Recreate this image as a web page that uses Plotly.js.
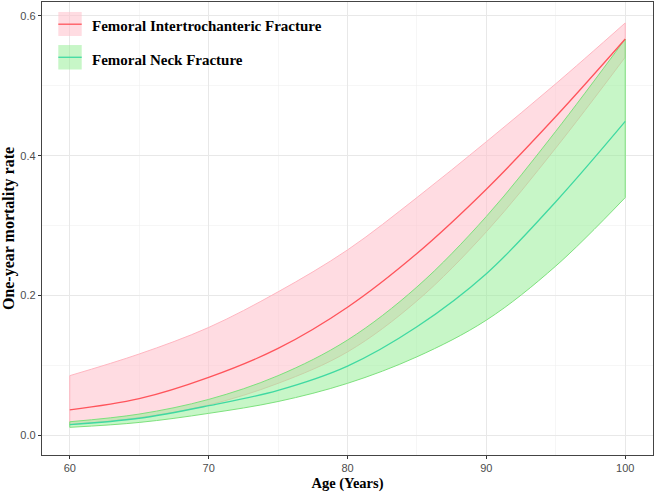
<!DOCTYPE html>
<html>
<head>
<meta charset="utf-8">
<script src="https://cdn.plot.ly/plotly-3.0.1.min.js"></script>
<style>
  html, body { margin: 0; padding: 0; background: #ffffff; }
  #chart { width: 657px; height: 492px; }
</style>
</head>
<body>
<div id="chart"></div>
<script>
// ---- Data ----
const ages = [60, 65, 70, 75, 80, 85, 90, 95, 100];

// Femoral Intertrochanteric Fracture
const itFit   = [0.036, 0.052, 0.0825, 0.124, 0.183, 0.260, 0.352, 0.456, 0.567];
const itUpper = [0.085, 0.116, 0.154, 0.205, 0.265, 0.340, 0.420, 0.503, 0.590];
const itLower = [0.015, 0.025, 0.043, 0.074, 0.119, 0.192, 0.291, 0.411, 0.541];

// Femoral Neck Fracture
const nfFit   = [0.015, 0.024, 0.042, 0.064, 0.0987, 0.155, 0.231, 0.334, 0.449];
const nfUpper = [0.019, 0.030, 0.051, 0.085, 0.136, 0.212, 0.313, 0.435, 0.567];
const nfLower = [0.011, 0.018, 0.031, 0.048, 0.074, 0.112, 0.1645, 0.242, 0.340];

const seriesNames = ['Femoral Intertrochanteric Fracture', 'Femoral Neck Fracture'];

// ---- Styles ----
const pinkFill = 'rgba(255,192,203,0.55)';
const pinkEdge = 'rgba(255,182,193,1)';
const redLine = '#ff545b';
const greenFill = 'rgba(144,238,144,0.5)';
const greenEdge = 'rgba(125,225,125,1)';
const tealLine = '#3fd9a2';

function ribbon(lower, upper, fill, edge) {
  const last = ages.length - 1;
  return [
    { x: ages, y: lower, type: 'scatter', mode: 'lines',
      line: { color: edge, width: 1, shape: 'spline', smoothing: 1 },
      showlegend: false, hoverinfo: 'skip' },
    { x: ages, y: upper, type: 'scatter', mode: 'lines', fill: 'tonexty', fillcolor: fill,
      line: { color: edge, width: 1, shape: 'spline', smoothing: 1 },
      showlegend: false, hoverinfo: 'skip' },
    { x: [ages[0], ages[0]], y: [lower[0], upper[0]], type: 'scatter', mode: 'lines',
      line: { color: edge, width: 1 }, showlegend: false, hoverinfo: 'skip' },
    { x: [ages[last], ages[last]], y: [lower[last], upper[last]], type: 'scatter', mode: 'lines',
      line: { color: edge, width: 1 }, showlegend: false, hoverinfo: 'skip' }
  ];
}

const traces = [
  ...ribbon(itLower, itUpper, pinkFill, pinkEdge),
  ...ribbon(nfLower, nfUpper, greenFill, greenEdge),
  { x: ages, y: itFit, type: 'scatter', mode: 'lines', name: seriesNames[0],
    line: { color: redLine, width: 1.3, shape: 'spline', smoothing: 1 }, showlegend: false },
  { x: ages, y: nfFit, type: 'scatter', mode: 'lines', name: seriesNames[1],
    line: { color: tealLine, width: 1.3, shape: 'spline', smoothing: 1 }, showlegend: false }
];

const tickFont = { family: 'Liberation Sans, Arial, sans-serif', size: 11, color: '#4d4d4d' };
const serif = 'Liberation Serif, Times New Roman, serif';

const layout = {
  width: 657, height: 492,
  margin: { l: 42, r: 4, t: 2, b: 37 },
  paper_bgcolor: '#ffffff', plot_bgcolor: '#ffffff',
  showlegend: false,
  xaxis: {
    range: [58, 102], tick0: 60, dtick: 10, tickmode: 'linear',
    ticks: 'outside', ticklen: 3, tickwidth: 1, tickcolor: '#333333',
    tickfont: tickFont,
    showgrid: true, gridcolor: '#e8e8e8', gridwidth: 1,
    minor: { tick0: 60, dtick: 5, showgrid: true, gridcolor: '#f0f0f0', gridwidth: 0.6, ticks: '' },
    zeroline: false, showline: true, mirror: true, linecolor: '#444444', linewidth: 1.2,
    title: { text: '<b>Age (Years)</b>', font: { family: serif, size: 14.5, color: '#000000' }, standoff: 6 },
    automargin: false
  },
  yaxis: {
    range: [-0.0286, 0.62], tick0: 0, dtick: 0.2, tickmode: 'linear', tickformat: '.1f',
    ticks: 'outside', ticklen: 3, tickwidth: 1, tickcolor: '#333333',
    tickfont: tickFont,
    showgrid: true, gridcolor: '#e8e8e8', gridwidth: 1,
    minor: { tick0: 0, dtick: 0.1, showgrid: true, gridcolor: '#f0f0f0', gridwidth: 0.6, ticks: '' },
    zeroline: false, showline: true, mirror: true, linecolor: '#444444', linewidth: 1.2,
    title: { text: '<b>One-year mortality rate</b>', font: { family: serif, size: 16, color: '#000000' }, standoff: 8 },
    automargin: false
  },
  shapes: [
    { type: 'rect', xref: 'paper', yref: 'paper', x0: 0.0267, x1: 0.065, y0: 0.925, y1: 0.978,
      fillcolor: pinkFill, line: { width: 0 } },
    { type: 'line', xref: 'paper', yref: 'paper', x0: 0.0267, x1: 0.065, y0: 0.951, y1: 0.951,
      line: { color: redLine, width: 1.3 } },
    { type: 'rect', xref: 'paper', yref: 'paper', x0: 0.0267, x1: 0.065, y0: 0.851, y1: 0.905,
      fillcolor: greenFill, line: { width: 0 } },
    { type: 'line', xref: 'paper', yref: 'paper', x0: 0.0267, x1: 0.065, y0: 0.878, y1: 0.878,
      line: { color: tealLine, width: 1.3 } }
  ],
  annotations: [
    { xref: 'paper', yref: 'paper', x: 0.078, y: 0.948, xanchor: 'left', yanchor: 'middle',
      text: '<b>' + seriesNames[0] + '</b>', showarrow: false,
      font: { family: serif, size: 15, color: '#000000' } },
    { xref: 'paper', yref: 'paper', x: 0.078, y: 0.872, xanchor: 'left', yanchor: 'middle',
      text: '<b>' + seriesNames[1] + '</b>', showarrow: false,
      font: { family: serif, size: 15, color: '#000000' } }
  ]
};

Plotly.newPlot('chart', traces, layout, { staticPlot: true, displayModeBar: false });
</script>
</body>
</html>
